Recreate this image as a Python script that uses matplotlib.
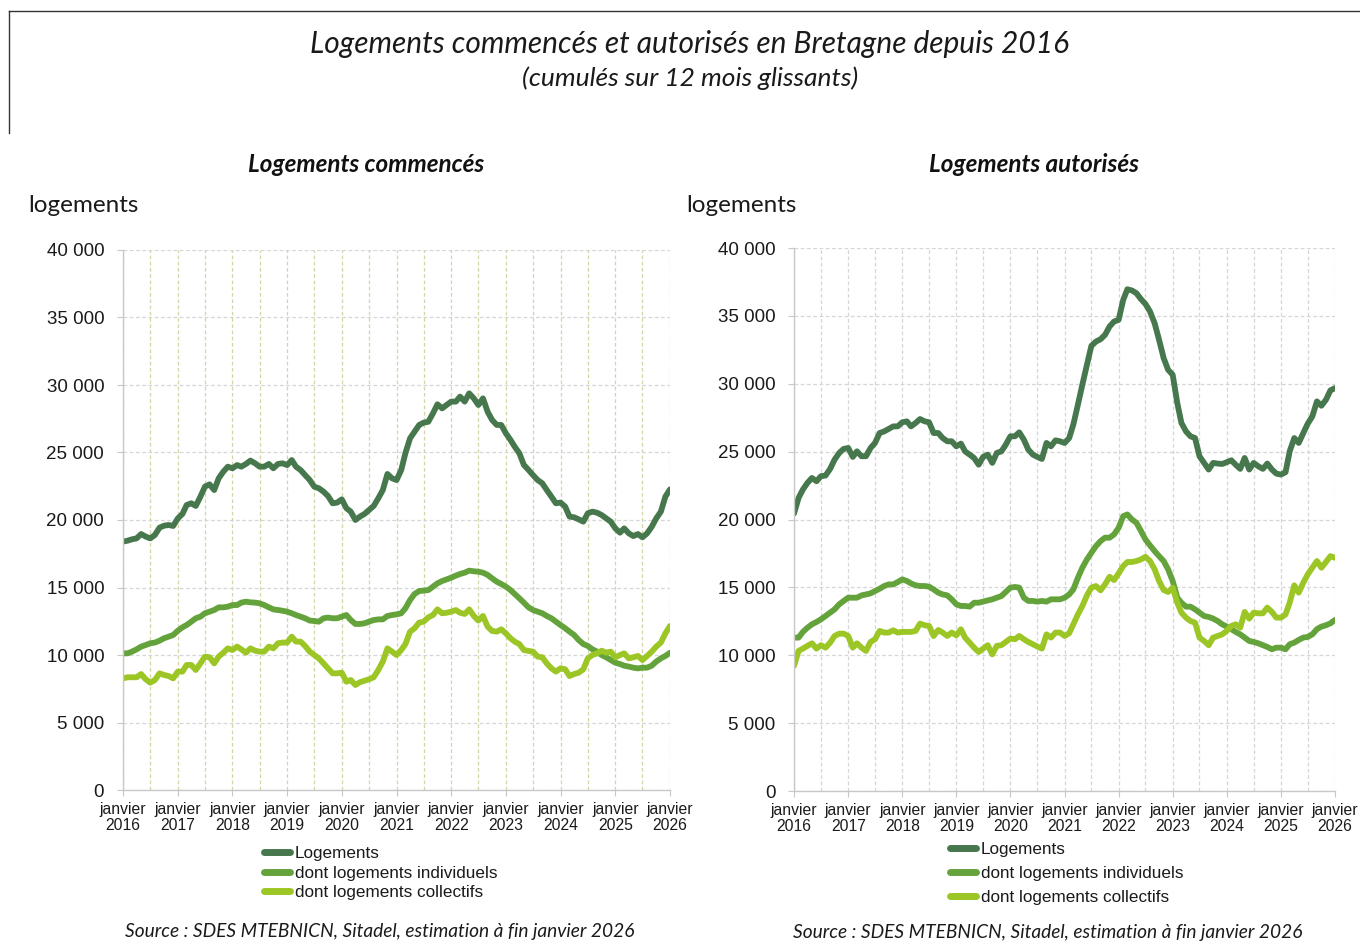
import matplotlib
matplotlib.use("Agg")
import matplotlib.pyplot as plt
import matplotlib.dates as mdates
from matplotlib.ticker import FuncFormatter, MultipleLocator
import pandas as pd

# ---------------- data (monthly, janvier 2016 -> janvier 2026) ----------------
months = pd.date_range("2016-01-01", periods=121, freq="MS")

commences_total = [
    18400, 18470, 18570, 18640, 18960, 18770, 18640, 18890, 19430, 19580, 19630, 19560,
    20120, 20450, 21110, 21240, 21040, 21730, 22470, 22640, 22220, 23090, 23580, 23950,
    23830, 24070, 23950, 24150, 24400, 24200, 23950, 23950, 24150, 23830, 24150, 24200,
    24070, 24440, 23950, 23700, 23330, 22960, 22470, 22350, 22100, 21780, 21240, 21290,
    21530, 20870, 20620, 20000, 20250, 20450, 20740, 21040, 21610, 22220, 23410, 23090,
    22960, 23700, 24950, 26050, 26540, 27040, 27210, 27280, 27900, 28570, 28270, 28520,
    28770, 28770, 29140, 28770, 29380, 29010, 28520, 29010, 28020, 27410, 27040, 27040,
    26420, 25930, 25430, 24940, 24080, 23710, 23330, 22960, 22720, 22220, 21730, 21240,
    21290, 20990, 20250, 20200, 20050, 19880, 20500, 20620, 20540, 20370, 20120, 19880,
    19380, 19060, 19380, 19010, 18810, 18960, 18720, 19010, 19500, 20120, 20620, 21730,
    22270,
]
commences_indiv = [
    10125, 10125, 10250, 10420, 10620, 10740, 10870, 10920, 11060, 11240, 11360, 11480,
    11800, 12050, 12220, 12470, 12720, 12840, 13090, 13210, 13330, 13530, 13530, 13580,
    13700, 13700, 13880, 13950, 13900, 13880, 13830, 13700, 13530, 13380, 13330, 13280,
    13210, 13090, 12960, 12840, 12720, 12550, 12520, 12470, 12720, 12770, 12720, 12720,
    12840, 12960, 12590, 12300, 12300, 12350, 12470, 12590, 12640, 12640, 12890, 12960,
    13010, 13090, 13460, 14070, 14520, 14740, 14770, 14810, 15060, 15310, 15480, 15600,
    15730, 15880, 16000, 16100, 16250, 16200, 16170, 16100, 15930, 15680, 15430, 15260,
    15060, 14810, 14520, 14200, 13880, 13530, 13330, 13210, 13090, 12890, 12720, 12470,
    12220, 11980, 11730, 11480, 11110, 10810, 10670, 10420, 10250, 10000, 9830, 9630,
    9430, 9330, 9210, 9140, 9060, 9010, 9060, 9060, 9210, 9510, 9750, 9930,
    10170,
]
commences_coll = [
    8270, 8350, 8350, 8350, 8590, 8200, 7950, 8150, 8640, 8520, 8440, 8270,
    8770, 8770, 9260, 9260, 8890, 9380, 9880, 9830, 9380, 9880, 10170, 10490,
    10370, 10620, 10420, 10170, 10490, 10320, 10250, 10250, 10620, 10490, 10870, 10920,
    10920, 11360, 10990, 10990, 10670, 10250, 10000, 9750, 9380, 9010, 8640, 8640,
    8690, 8020, 8150, 7780, 7980, 8100, 8200, 8350, 8890, 9510, 10490, 10250,
    10000, 10370, 10810, 11730, 11980, 12400, 12470, 12790, 12960, 13380, 13090, 13130,
    13210, 13330, 13130, 13040, 13380, 12890, 12550, 12890, 12100, 11780, 11730, 11900,
    11600, 11240, 10990, 10810, 10370, 10300, 10250, 9880, 9830, 9380, 9010, 8770,
    9010, 8940, 8440, 8590, 8690, 8940, 9750, 10000, 10120, 10320, 10170, 10250,
    9830, 10000, 10120, 9750, 9830, 9930, 9630, 9930, 10250, 10620, 10920, 11600,
    12150,
]
autorises_total = [
    20440, 21590, 22210, 22700, 23060, 22820, 23190, 23240, 23730, 24410, 24900, 25200,
    25270, 24610, 25020, 24660, 24660, 25270, 25640, 26370, 26490, 26670, 26860, 26860,
    27160, 27230, 26860, 27110, 27400, 27230, 27160, 26370, 26370, 26000, 25760, 25760,
    25390, 25590, 25020, 24780, 24530, 24040, 24610, 24780, 24170, 24900, 25020, 25510,
    26130, 26130, 26420, 25880, 25150, 24780, 24610, 24460, 25640, 25390, 25830, 25760,
    25640, 26000, 26990, 28460, 29930, 31400, 32790, 33110, 33280, 33600, 34220, 34580,
    34710, 36180, 36960, 36870, 36670, 36230, 35880, 35320, 34460, 33240, 31890, 31030,
    30660, 28580, 27110, 26490, 26130, 26000, 24660, 24170, 23680, 24170, 24120, 24090,
    24220, 24360, 24040, 23730, 24530, 23680, 24170, 23920, 23730, 24120, 23680, 23380,
    23310, 23480, 25020, 26000, 25640, 26370, 27060, 27600, 28700, 28380, 28820, 29510,
    29680,
]
autorises_indiv = [
    11300, 11300, 11720, 12030, 12280, 12450, 12650, 12890, 13140, 13380, 13750, 14000,
    14240, 14240, 14240, 14410, 14480, 14560, 14730, 14900, 15100, 15220, 15220, 15390,
    15590, 15470, 15290, 15150, 15100, 15100, 15050, 14850, 14610, 14480, 14410, 14120,
    13750, 13630, 13630, 13580, 13870, 13870, 13950, 14040, 14120, 14240, 14360, 14660,
    14980, 15030, 14980, 14240, 14000, 14000, 13950, 14000, 13950, 14120, 14120, 14120,
    14240, 14480, 14850, 15710, 16450, 17060, 17550, 18040, 18410, 18660, 18660, 18900,
    19390, 20250, 20370, 20000, 19760, 19150, 18530, 18090, 17670, 17300, 16940, 16330,
    15470, 14240, 13870, 13580, 13580, 13380, 13140, 12890, 12820, 12700, 12520, 12280,
    12110, 11920, 11720, 11540, 11300, 11050, 10980, 10880, 10740, 10610, 10440, 10560,
    10560, 10440, 10810, 10930, 11130, 11300, 11350, 11540, 11920, 12110, 12210, 12350,
    12600,
]
autorises_coll = [
    9215, 10320, 10490, 10690, 10880, 10490, 10740, 10560, 10930, 11420, 11590, 11590,
    11420, 10560, 10880, 10560, 10320, 10980, 11180, 11790, 11670, 11670, 11840, 11670,
    11720, 11720, 11720, 11790, 12330, 12210, 12160, 11420, 11860, 11670, 11420, 11670,
    11470, 11910, 11300, 10930, 10560, 10240, 10490, 10740, 10070, 10690, 10740, 10980,
    11230, 11180, 11420, 11180, 10980, 10810, 10640, 10490, 11540, 11300, 11670, 11670,
    11420, 11620, 12280, 13010, 13630, 14410, 14980, 15100, 14780, 15220, 15780, 15540,
    16030, 16570, 16870, 16870, 16940, 17060, 17250, 16940, 16330, 15470, 14810, 14660,
    14980, 13870, 13140, 12770, 12520, 12400, 11300, 11050, 10740, 11300, 11420, 11540,
    11790, 12160, 12280, 12040, 13190, 12700, 13140, 13090, 13090, 13510, 13190, 12770,
    12770, 13010, 13870, 15150, 14610, 15350, 15960, 16450, 16940, 16450, 16870, 17300,
    17180,
]

series_labels = ["Logements", "dont logements individuels", "dont logements collectifs"]
panel_titles = ["Logements commencés", "Logements autorisés"]
title = "Logements commencés et autorisés en Bretagne depuis 2016"
subtitle = "(cumulés sur 12 mois glissants)"
source = "Source : SDES MTEBNICN, Sitadel, estimation à fin janvier 2026"
y_unit = "logements"

colors = ["#47784d", "#64a23c", "#9cc625"]

# ---------------- figure ----------------
W, H = 1360, 946
fig = plt.figure(figsize=(W / 100, H / 100), dpi=100)
fig.patch.set_facecolor("white")

TITLE_FONT = ["Lato", "DejaVu Sans"]
TICK_FONT = ["Liberation Sans", "DejaVu Sans"]


def fx(px):
    return px / W


def fy(py):
    return 1 - py / H


# frame lines at top-left
fig.add_artist(plt.Line2D([fx(9), fx(1360)], [fy(11), fy(11)], color="#333333", lw=1))
fig.add_artist(plt.Line2D([fx(9), fx(9)], [fy(11), fy(133)], color="#333333", lw=1))

fig.text(fx(690), fy(44), title, ha="center", va="center", fontsize=21.5,
         style="italic", family=TITLE_FONT, color="#1a1a1a")
fig.text(fx(690), fy(78), subtitle, ha="center", va="center", fontsize=19,
         style="italic", family=TITLE_FONT, color="#1a1a1a")


def thousands(v, pos):
    v = int(round(v))
    if v == 0:
        return "0"
    return f"{v:,}".replace(",", " ")


def make_panel(rect, total, indiv, coll, vgrid_color, ptitle, ptitle_xy, unit_xy,
               legend_xy, legend_spacing, source_xy):
    ax = fig.add_axes(rect)
    for vals, c, lab in zip([total, indiv, coll], colors, series_labels):
        ax.plot(months, vals, color=c, lw=4.2, solid_capstyle="round",
                solid_joinstyle="round", label=lab)
    ax.set_ylim(0, 40000)
    ax.set_xlim(months[0], months[-1])
    ax.yaxis.set_major_locator(MultipleLocator(5000))
    ax.yaxis.set_major_formatter(FuncFormatter(thousands))
    ax.xaxis.set_major_locator(mdates.YearLocator(1, month=1, day=1))
    ax.xaxis.set_major_formatter(FuncFormatter(
        lambda v, p: "janvier\n" + mdates.num2date(v).strftime("%Y")))
    ax.xaxis.set_minor_locator(mdates.MonthLocator(bymonth=[7]))
    ax.grid(axis="y", which="major", color="#d6d6d6", ls=(0, (3, 2)), lw=0.9)
    ax.grid(axis="x", which="both", color=vgrid_color, ls=(0, (3, 2)), lw=0.9)
    ax.set_axisbelow(True)
    for s in ["top", "right"]:
        ax.spines[s].set_visible(False)
    for s in ["left", "bottom"]:
        ax.spines[s].set_color("#c8c8c8")
        ax.spines[s].set_linewidth(1)
    ax.tick_params(axis="y", length=4.5, color="#c8c8c8", pad=9, labelsize=13.5,
                   labelcolor="#1a1a1a")
    ax.tick_params(axis="x", which="major", length=4, color="#c8c8c8", pad=4.5,
                   labelsize=11.3, labelcolor="#1a1a1a")
    ax.tick_params(axis="x", which="minor", length=0)
    for lbl in ax.get_xticklabels() + ax.get_yticklabels():
        lbl.set_family(TICK_FONT)
    for lbl in ax.get_xticklabels():
        lbl.set_linespacing(1.12)

    fig.text(fx(ptitle_xy[0]), fy(ptitle_xy[1]), ptitle, ha="center", va="center",
             fontsize=17.5, style="italic", weight="bold", family=TITLE_FONT,
             color="#111111")
    fig.text(fx(unit_xy[0]), fy(unit_xy[1]), y_unit, ha="left", va="center",
             fontsize=17.5, family=TITLE_FONT, color="#1a1a1a")

    leg = ax.legend(loc="upper left", bbox_to_anchor=(fx(legend_xy[0]), fy(legend_xy[1])),
                    bbox_transform=fig.transFigure, frameon=False,
                    prop={"family": TICK_FONT, "size": 12.3}, handlelength=1.5,
                    handletextpad=0.3, labelspacing=legend_spacing, borderpad=0,
                    borderaxespad=0)
    for h in leg.get_lines():
        h.set_linewidth(5)
        h.set_solid_capstyle("round")
    for t in leg.get_texts():
        t.set_color("#1a1a1a")

    fig.text(fx(source_xy[0]), fy(source_xy[1]), source, ha="center", va="center",
             fontsize=13.8, style="italic", family=TITLE_FONT, color="#1a1a1a")
    return ax


make_panel([fx(123), fy(790), fx(670) - fx(123), fy(250) - fy(790)],
           commences_total, commences_indiv, commences_coll, "#d3d6a6",
           panel_titles[0], (366, 165), (28, 205), (264, 846), 0.27, (380, 931))
make_panel([fx(794), fy(791), fx(1335) - fx(794), fy(248) - fy(791)],
           autorises_total, autorises_indiv, autorises_coll, "#d6d6d6",
           panel_titles[1], (1034, 165), (686, 205), (950, 842), 0.52, (1048, 932))

fig.savefig("out.png", dpi=100, facecolor="white")
